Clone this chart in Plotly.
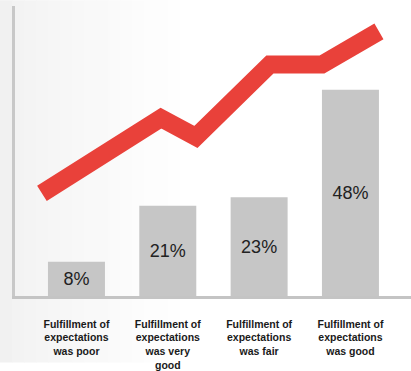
import plotly.graph_objects as go

# Survey categories and shares
categories = [
    "Fulfillment of<br>expectations<br>was poor",
    "Fulfillment of<br>expectations<br>was very<br>good",
    "Fulfillment of<br>expectations<br>was fair",
    "Fulfillment of<br>expectations<br>was good",
]
shares = [8, 21, 23, 48]
share_labels = ["8%", "21%", "23%", "48%"]

# Decorative upward trend drawn above the bars
trend_x = [-0.378, 0.925, 1.308, 2.119, 2.688, 3.312]
trend_y = [23.9, 41.4, 37.0, 53.9, 53.9, 61.6]

positions = list(range(len(categories)))

fig = go.Figure()

fig.add_trace(go.Bar(
    x=positions,
    y=shares,
    width=0.624,
    marker=dict(color="#c6c6c6", line=dict(width=0)),
    text=share_labels,
    textposition="inside",
    insidetextanchor="middle",
    textfont=dict(family="Liberation Sans, Arial, sans-serif", size=18, color="#222222"),
    hoverinfo="skip",
))

fig.add_trace(go.Scatter(
    x=trend_x,
    y=trend_y,
    mode="lines",
    line=dict(color="#e9413a", width=18),
    hoverinfo="skip",
))

# Soft grey-to-white backdrop fading out towards the right
plot_w, plot_h = 396, 297
left_px, top_px, bottom_px = 15, 6, 68
strip_px = 12
n_strips = 16
shapes = []
for i in range(n_strips):
    shade = int(round(241 + (255 - 241) * (i / (n_strips - 1)) ** 0.8))
    x0 = (i * strip_px - left_px) / plot_w
    x1 = ((i + 1) * strip_px - left_px) / plot_w
    shapes.append(dict(
        type="rect", xref="paper", yref="paper",
        x0=x0, x1=x1 + 0.002,
        y0=-bottom_px / plot_h, y1=1 + top_px / plot_h,
        fillcolor=f"rgb({shade},{shade},{shade})",
        line=dict(width=0), layer="below",
    ))

fig.update_layout(
    width=411,
    height=371,
    margin=dict(l=left_px, r=0, t=top_px, b=bottom_px),
    paper_bgcolor="#ffffff",
    plot_bgcolor="rgba(0,0,0,0)",
    showlegend=False,
    shapes=shapes,
    uniformtext=dict(minsize=18, mode="show"),
    xaxis=dict(
        range=[-0.673, 3.663],
        tickvals=positions,
        ticktext=categories,
        tickfont=dict(family="Liberation Sans, Arial, sans-serif", size=10.5, color="#1a1a1a", weight="bold"),
        ticks="outside",
        ticklen=0,
        ticklabelstandoff=16,
        showgrid=False,
        zeroline=False,
        showline=True,
        linecolor="#c4c4c4",
        linewidth=3,
        fixedrange=True,
    ),
    yaxis=dict(
        range=[0, 67.5],
        showticklabels=False,
        showgrid=False,
        zeroline=False,
        showline=True,
        linecolor="#c8c8c8",
        linewidth=3,
        ticks="",
        fixedrange=True,
    ),
)

fig.write_html("out.html")
